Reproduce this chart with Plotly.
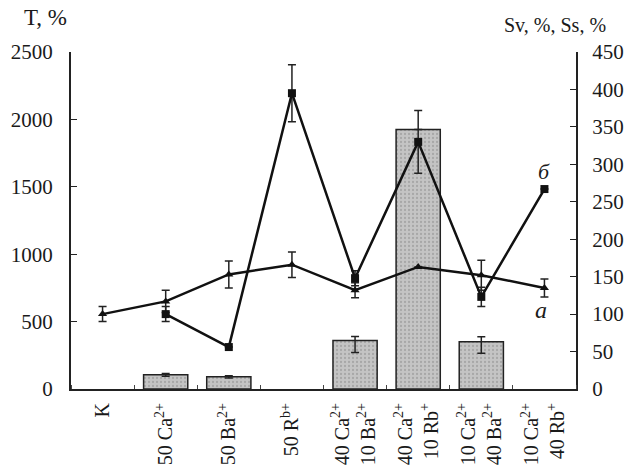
import plotly.graph_objects as go

categories = ["K", "50 Ca<sup>2+</sup>", "50 Ba<sup>2+</sup>", "50 R<sup>b+</sup>",
              "40 Ca<sup>2+</sup><br>10 Ba<sup>2+</sup>", "40 Ca<sup>2+</sup><br>10 Rb<sup>+</sup>",
              "10 Ca<sup>2+</sup><br>40 Ba<sup>2+</sup>", "10 Ca<sup>2+</sup><br>40 Rb<sup>+</sup>"]
xpos = list(range(len(categories)))

# Bars: T, % (left axis)
bar_T = [None, 105, 90, None, 360, 1925, 350, None]
bar_err_plus = [0, 10, 8, 0, 30, 0, 37, 0]
bar_err_minus = [0, 10, 8, 0, 90, 0, 84, 0]

# Line a (right axis)
line_a = [100, 117, 153, 166, 132, 163, 152, 135]
line_a_err = [10, 15, 18, 17, 10, 0, 20, 12]

# Line б (right axis)
line_b = [None, 100, 56, 395, 148, 330, 123, 267]
line_b_err = [0, 10, 0, 38, 10, 42, 13, 0]

fig = go.Figure()
fig.add_trace(go.Bar(
    x=xpos, y=bar_T, width=0.7,
    marker=dict(color="#bdbdbd", line=dict(color="#222", width=1.5),
                pattern=dict(shape=".", size=4, solidity=0.25, fgcolor="#8a8a8a", bgcolor="#c4c4c4")),
    error_y=dict(type="data", symmetric=False, array=bar_err_plus, arrayminus=bar_err_minus,
                 color="#222", thickness=1.5, width=4),
    showlegend=False, yaxis="y"))

fig.add_trace(go.Scatter(
    x=xpos, y=line_a, mode="lines+markers", yaxis="y2",
    line=dict(color="#111", width=2.5),
    marker=dict(symbol="triangle-up", size=8, color="#111"),
    error_y=dict(type="data", array=line_a_err, color="#222", thickness=1.5, width=4),
    showlegend=False))

fig.add_trace(go.Scatter(
    x=xpos, y=line_b, mode="lines+markers", yaxis="y2", connectgaps=False,
    line=dict(color="#111", width=2.5),
    marker=dict(symbol="square", size=8, color="#111"),
    error_y=dict(type="data", array=line_b_err, color="#222", thickness=1.5, width=4),
    showlegend=False))

font = dict(family="Liberation Serif, Times New Roman, serif", size=20, color="#1a1a1a")

fig.update_layout(
    width=629, height=466,
    margin=dict(l=71, r=53, t=52, b=77, autoexpand=False),
    plot_bgcolor="white", paper_bgcolor="white",
    font=font,
    xaxis=dict(range=[-0.5, 7.5], tickvals=xpos, ticktext=categories, tickangle=-90,
               ticks="", showline=True, linecolor="#222", linewidth=2, showgrid=False,
               zeroline=False, tickfont=dict(size=20), ticklabelstandoff=4, automargin=False,
               minor=dict(tick0=0.5, dtick=1, ticks="inside", ticklen=4, tickcolor="#444")),
    yaxis=dict(range=[0, 2500], tickvals=[0, 500, 1000, 1500, 2000, 2500],
               ticks="inside", ticklen=6, tickcolor="#222", showline=True, linecolor="#222",
               linewidth=2, showgrid=False, zeroline=False, tickfont=dict(size=21),
               ticklabelstandoff=12, automargin=False),
    yaxis2=dict(range=[0, 450], tickvals=list(range(0, 451, 50)), overlaying="y", side="right",
                ticks="inside", ticklen=6, tickcolor="#222", showline=True, linecolor="#222",
                linewidth=2, showgrid=False, zeroline=False, tickfont=dict(size=21),
                ticklabelstandoff=10, automargin=False),
    annotations=[
        dict(text="T, %", x=0, xref="paper", xanchor="right", xshift=-2, y=1, yref="paper",
             yanchor="bottom", yshift=20, showarrow=False, font=dict(size=23)),
        dict(text="Sv, %, Ss, %", x=1, xref="paper", xanchor="left", xshift=-74, y=1, yref="paper",
             yanchor="bottom", yshift=14, showarrow=False, font=dict(size=20)),
        dict(text="<i>б</i>", x=7, xref="x", y=290, yref="y2", showarrow=False,
             font=dict(size=22)),
        dict(text="<i>a</i>", x=6.95, xref="x", y=105, yref="y2", showarrow=False,
             font=dict(size=24)),
    ],
)

fig.write_html("out.html", config={"displayModeBar": False},
               post_script="document.body.style.margin='0';document.body.style.overflow='hidden';")
